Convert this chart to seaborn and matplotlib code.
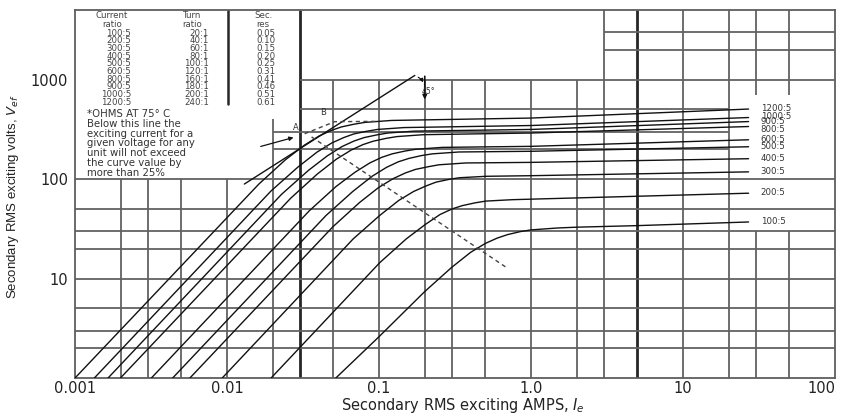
import pandas as pd
import matplotlib
matplotlib.use("Agg")
import matplotlib.pyplot as plt
import seaborn as sns
from matplotlib.ticker import NullLocator

#-----------------------------------------------------------
# excitation curves (amps, volts)
ratios = ['1200:5', '1000:5', '900:5', '800:5', '600:5',
          '500:5', '400:5', '300:5', '200:5', '100:5']
# where each ratio label sits on the right edge (volts)
label_v = [515, 425, 378, 318, 250, 212, 160, 119, 74, 37.5]

i_1200 = [0.001, 0.0162, 0.0242, 0.0323, 0.0404, 0.0485, 0.0566, 0.0687, 0.0808, 0.121, 1.0, 27]
v_1200 = [1, 89, 156, 219, 271, 308, 334, 356, 371, 388, 410, 505]

i_1000 = [0.00134, 0.0195, 0.0293, 0.039, 0.0488, 0.0586, 0.0683, 0.083, 0.0976, 0.146, 1.0, 27]
v_1000 = [1, 76, 132, 186, 230, 261, 284, 302, 315, 329, 345, 415]

i_900 = [0.00165, 0.0228, 0.0343, 0.0457, 0.0571, 0.0685, 0.0799, 0.0971, 0.114, 0.171, 1.0, 27]
v_900 = [1, 70, 122, 171, 212, 241, 261, 278, 290, 303, 315, 378]

i_800 = [0.00199, 0.0262, 0.0392, 0.0523, 0.0654, 0.0785, 0.0916, 0.111, 0.131, 0.196, 1.0, 27]
v_800 = [1, 64, 112, 158, 195, 222, 240, 256, 267, 279, 290, 337]

i_600 = [0.00318, 0.0348, 0.0521, 0.0695, 0.0869, 0.104, 0.122, 0.148, 0.174, 0.261, 1.0, 27]
v_600 = [1, 48, 84, 117, 145, 165, 179, 191, 199, 208, 213, 248]

i_500 = [0.00439, 0.0448, 0.0672, 0.0896, 0.112, 0.134, 0.157, 0.19, 0.224, 0.336, 1.0, 27]
v_500 = [1, 43, 75, 106, 131, 149, 161, 172, 179, 187, 190, 211]

i_400 = [0.0057, 0.0496, 0.0744, 0.0992, 0.124, 0.149, 0.174, 0.211, 0.248, 0.372, 1.0, 27]
v_400 = [1, 33, 58, 82, 101, 115, 125, 133, 139, 145, 147, 160]

i_300 = [0.0093, 0.0676, 0.101, 0.135, 0.169, 0.203, 0.237, 0.287, 0.338, 0.507, 1.0, 27]
v_300 = [1, 25, 43, 61, 75, 85, 93, 99, 103, 106.5, 108, 118]

i_200 = [0.0195, 0.101, 0.151, 0.202, 0.252, 0.302, 0.353, 0.428, 0.504, 0.756, 27]
v_200 = [1, 14.4, 25, 35, 44, 50, 54, 57.6, 60, 62, 72]

i_100 = [0.052, 0.1, 0.2, 0.3, 0.4, 0.5, 0.6, 0.7, 0.85, 1.0, 1.5, 2, 5, 10, 27]
v_100 = [1, 2.6, 7.4, 12.9, 18.3, 22.5, 25.5, 27.6, 29.6, 30.8, 32.2, 32.8, 34, 35.2, 37]

# construction lines
tangent_i = [0.013, 0.172]
tangent_v = [89, 1100]
knee_i = [0.036, 0.705]
knee_v = [265, 12.6]
ab_i = [0.0324, 0.051, 0.1]
ab_v = [285, 377, 380]
below_i = [0.016, 0.0285]
below_v = [209, 266]

# table in the corner
current_ratio = ['100:5', '200:5', '300:5', '400:5', '500:5', '600:5', '800:5', '900:5', '1000:5', '1200:5']
turn_ratio = ['20:1', '40:1', '60:1', '80:1', '100:1', '120:1', '160:1', '180:1', '200:1', '240:1']
sec_res = ['0.05', '0.10', '0.15', '0.20', '0.25', '0.31', '0.41', '0.46', '0.51', '0.61']
note_lines = ['*OHMS AT 75° C', 'Below this line the', 'exciting current for a',
              'given voltage for any', 'unit will not exceed',
              'the curve value by', 'more than 25%']

#-----------------------------------------------------------
curve_pts = {'1200:5': (i_1200, v_1200), '1000:5': (i_1000, v_1000), '900:5': (i_900, v_900),
             '800:5': (i_800, v_800), '600:5': (i_600, v_600), '500:5': (i_500, v_500),
             '400:5': (i_400, v_400), '300:5': (i_300, v_300), '200:5': (i_200, v_200),
             '100:5': (i_100, v_100)}
rows = []
for r in ratios:
    for a, v in zip(*curve_pts[r]):
        rows.append({'ratio': r, 'amps': a, 'volts': v})
df = pd.DataFrame(rows)

sns.set_style('white')
plt.rcParams['font.family'] = ['DejaVu Sans']

fig = plt.figure(figsize=(8.46, 4.15), dpi=100)
ax = fig.add_axes([0.0887, 0.0892, 0.8983, 0.8867])
ax.set_xscale('log')
ax.set_yscale('log')

sns.lineplot(data=df, x='amps', y='volts', hue='ratio', palette=['#111111'] * len(ratios),
             estimator=None, sort=False, legend=False, linewidth=1.0, ax=ax, zorder=3)

ax.set_xlim(0.001, 100)
ax.set_ylim(1, 5000)

# irregular chart-paper grid
grid_v = [(0.002, 1, 100), (0.003, 1, 100), (0.005, 1, 100), (0.01, 1, 100),
          (0.02, 1, 400), (0.03, 1, 5000), (0.05, 1, 1000), (0.1, 1, 1000),
          (0.2, 1, 1000), (0.3, 1, 1000), (0.5, 1, 1000), (1, 1, 1000), (2, 1, 1000),
          (3, 1, 5000), (5, 1, 5000), (10, 1, 5000), (20, 1, 5000),
          (30, 1, 30), (30, 700, 5000), (50, 1, 30), (50, 700, 5000)]
grid_h = [(y, 0.001, 100) for y in [2, 3, 5, 10, 20, 30, 50, 100]] + \
         [(200, 0.02, 20), (300, 0.02, 20), (500, 0.03, 20),
          (1000, 0.03, 100), (2000, 3, 100), (3000, 3, 100)]
for x, y0, y1 in grid_v:
    if x in (0.03, 5):
        ax.vlines(x, y0, y1, color='#262626', lw=2.0, zorder=1)
    else:
        ax.vlines(x, y0, y1, color='#626262', lw=1.3, zorder=1)
for y, x0, x1 in grid_h:
    ax.hlines(y, x0, x1, color='#626262', lw=1.3, zorder=1)

for s in ax.spines.values():
    s.set_color('#5e5e5e')
    s.set_linewidth(1.3)

# construction lines
ax.plot(tangent_i, tangent_v, color='#111111', lw=1.0, zorder=3)
ax.plot(knee_i, knee_v, color='#444444', lw=1.0, ls=(0, (3, 2.5)), zorder=3)
ax.plot(ab_i, ab_v, color='#444444', lw=1.0, ls=(0, (3, 2.5)), zorder=3)
ax.annotate('', xy=(below_i[1], below_v[1]), xytext=(below_i[0], below_v[0]),
            arrowprops=dict(arrowstyle='-|>', lw=0.9, color='#111111', mutation_scale=6))
ax.text(0.0285, 300, 'A', fontsize=6, color='#333333', ha='center', va='bottom')
ax.text(0.043, 420, 'B', fontsize=6, color='#333333', ha='center', va='bottom')
ax.annotate('', xy=(0.197, 880), xytext=(0.174, 1080),
            arrowprops=dict(arrowstyle='-|>', connectionstyle='arc3,rad=-0.3',
                            lw=0.8, color='#111111', mutation_scale=5))
ax.annotate('', xy=(0.2, 590), xytext=(0.2, 1150),
            arrowprops=dict(arrowstyle='-|>', lw=1.2, color='#111111', mutation_scale=6))
ax.text(0.212, 760, '45°', fontsize=5.5, color='#333333', ha='center', va='center')

# curve labels on the right
for r, lv in zip(ratios, label_v):
    ax.text(32.5, lv, r, fontsize=6.2, color='#333333', va='center', ha='left')

# table
def px(x, y):
    return (x - 75) / 760, (378 - y) / 368

tk = dict(transform=ax.transAxes, fontsize=6.2, color='#444444')
for lab, xp in [('Current', 112), ('Turn', 192), ('Sec.', 263)]:
    ax.text(*px(xp, 15), lab, ha='center', va='center', **tk)
for xp, lab in [(112, 'ratio'), (192, 'ratio'), (263, 'res')]:
    ax.text(*px(xp, 24), lab, ha='center', va='center', **tk)
for k in range(len(current_ratio)):
    yp = 33 + 7.7 * k
    ax.text(*px(131, yp), current_ratio[k], ha='right', va='center', **tk)
    ax.text(*px(209, yp), turn_ratio[k], ha='right', va='center', **tk)
    ax.text(*px(266, yp), sec_res[k], ha='center', va='center', **tk)
ax.plot([px(228, 0)[0]] * 2, [px(0, 10)[1], px(0, 104)[1]], transform=ax.transAxes,
        color='#262626', lw=1.8, zorder=2)
for k, line in enumerate(note_lines):
    ax.text(*px(87, 114 + 9.8 * k), line, transform=ax.transAxes, fontsize=7.3,
            color='#333333', ha='left', va='center')

# axes text
ax.xaxis.set_minor_locator(NullLocator())
ax.yaxis.set_minor_locator(NullLocator())
ax.set_xticks([0.001, 0.01, 0.1, 1, 10, 100])
ax.set_xticklabels(['0.001', '0.01', '0.1', '1.0', '10', '100'])
ax.set_yticks([10, 100, 1000])
ax.set_yticklabels(['10', '100', '1000'])
ax.tick_params(axis='both', length=0, labelsize=10.5, colors='#222222')
ax.tick_params(axis='x', pad=2.5)
ax.tick_params(axis='y', pad=5)
ax.get_xticklabels()[-1].set_horizontalalignment('right')

ax.set_xlabel(r'Secondary RMS exciting AMPS, $I_e$', fontsize=10.5, color='#222222')
ax.set_ylabel(r'Secondary RMS exciting volts, $V_{ef}$', fontsize=9.5, color='#222222',
              family=['Liberation Sans', 'DejaVu Sans'])
ax.xaxis.set_label_coords(0.5105, -0.05)
ax.yaxis.set_label_coords(-0.071, 0.492)

fig.savefig('out.png', dpi=100)
